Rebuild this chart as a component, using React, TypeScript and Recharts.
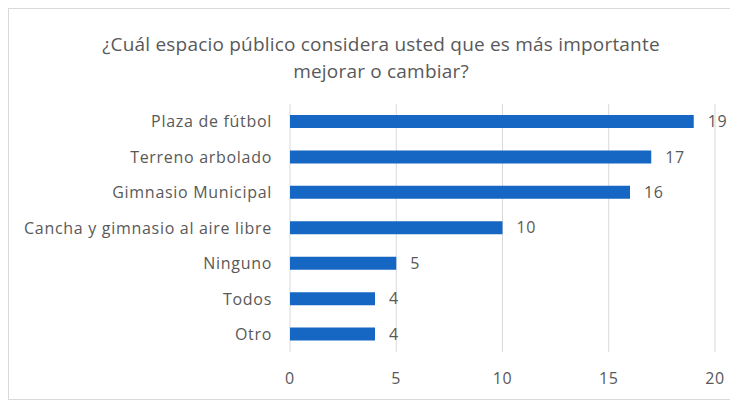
import { BarChart, Bar, XAxis, YAxis, CartesianGrid, LabelList } from 'recharts'

const categories = [
  'Plaza de fútbol',
  'Terreno arbolado',
  'Gimnasio Municipal',
  'Cancha y gimnasio al aire libre',
  'Ninguno',
  'Todos',
  'Otro',
]
const votes = [19, 17, 16, 10, 5, 4, 4]
const xTicks = [0, 5, 10, 15, 20]

const data = categories.map((name, i) => ({ name, value: votes[i] }))

const font = '"Open Sans", "Noto Sans", sans-serif'
const textColor = '#595959'
const tickStyle = { fill: textColor, fontSize: 16, fontFamily: font, letterSpacing: 0.7 }

export default function App() {
  return (
    <div
      style={{
        position: 'relative',
        width: 728,
        height: 390,
        border: '1px solid #d9d9d9',
        background: '#fff',
        fontFamily: font,
      }}
    >
      <div
        style={{
          position: 'absolute',
          top: 22,
          left: 0,
          width: 744,
          textAlign: 'center',
          fontSize: 19,
          letterSpacing: 0.2,
          lineHeight: '27px',
          color: textColor,
        }}
      >
        ¿Cuál espacio público considera usted que es más importante
        <br />
        mejorar o cambiar?
      </div>
      <BarChart
        width={728}
        height={390}
        data={data}
        layout="vertical"
        margin={{ top: 95, right: 22, bottom: 17, left: 0 }}
        barCategoryGap={0}
      >
        <CartesianGrid horizontal={false} stroke="#d9d9d9" strokeWidth={1} />
        <XAxis
          type="number"
          domain={[0, 20]}
          ticks={xTicks}
          axisLine={false}
          tickLine={false}
          tickSize={0}
          tickMargin={21}
          height={30}
          tick={tickStyle}
        />
        <YAxis
          type="category"
          dataKey="name"
          width={281}
          axisLine={false}
          tickLine={false}
          tickSize={0}
          tickMargin={18}
          interval={0}
          tick={tickStyle}
        />
        <Bar dataKey="value" fill="#1667c4" barSize={13} isAnimationActive={false}>
          <LabelList dataKey="value" position="right" offset={14} style={tickStyle} />
        </Bar>
      </BarChart>
    </div>
  )
}
